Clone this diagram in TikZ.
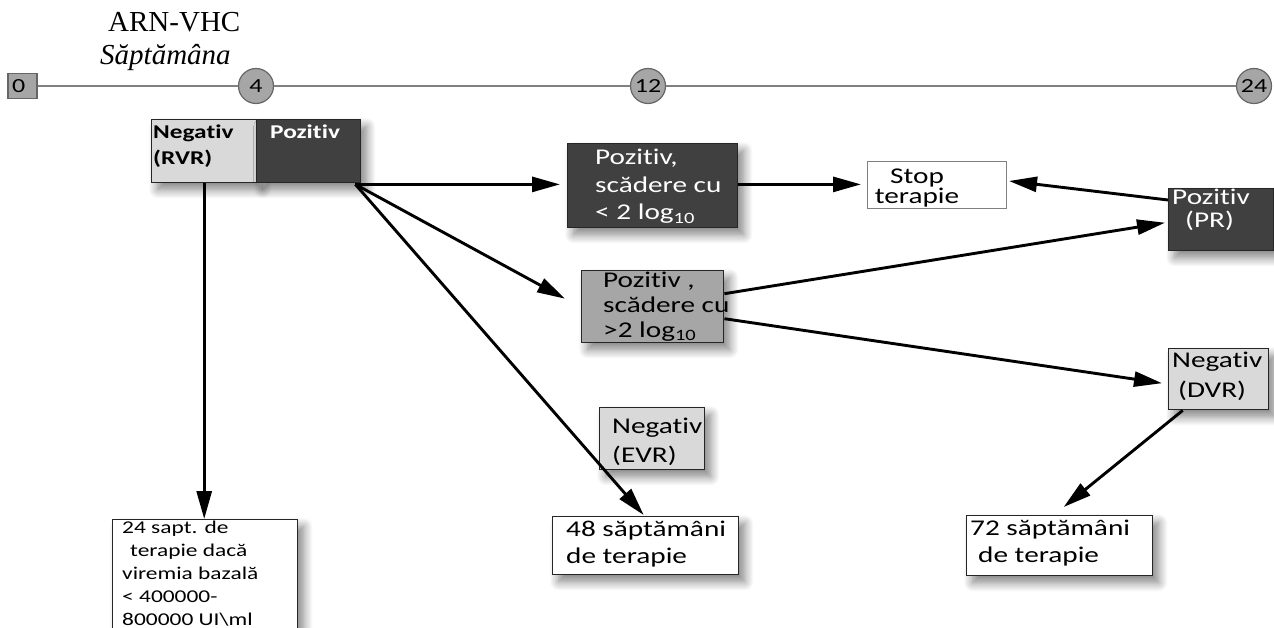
\documentclass[tikz,border=0pt]{standalone}
\usepackage{fontspec}
\setmainfont{Liberation Serif}
\newfontfamily\dg[FakeStretch=1.3, Ligatures=NoCommon]{Carlito}
\usetikzlibrary{arrows.meta,shadows.blur,calc}
\definecolor{dk}{HTML}{404040}
\definecolor{lt}{HTML}{D9D9D9}
\definecolor{md}{HTML}{A6A6A6}
\definecolor{tl}{HTML}{808080}
\begin{document}
\begin{tikzpicture}[x=1pt,y=-1pt,
 box/.style={draw=black!85, line width=1.4pt, inner sep=0pt, anchor=north west,
   blur shadow={shadow xshift=6pt, shadow yshift=-7pt, shadow blur steps=12, shadow blur radius=9pt, shadow opacity=50}},
 txt/.style={anchor=base west, inner sep=0pt, align=left, font=\dg\fontsize{22.5}{27}\selectfont},
 btxt/.style={txt, font=\dg\bfseries\fontsize{19.5}{26}\selectfont},
 arr/.style={-{Triangle[length=28pt,width=15pt]}, line width=2.9pt},
 tick/.style={circle, draw=black!60, fill=md, line width=1.2pt, minimum size=35pt, inner sep=0pt, font=\dg\fontsize{20}{20}\selectfont}
]
\path[use as bounding box] (0,0) rectangle (1274,628);
\clip (0,0) rectangle (1274,628);

% header
\node[anchor=base west, inner sep=0pt, font=\fontsize{29}{29}\selectfont] (arn) at (108,32) {ARN-VHC};
\node[anchor=base west, inner sep=0pt, font=\itshape\fontsize{29}{29}\selectfont] (sapt) at (100,65) {Săptămâna};

% timeline
\node[draw=black!60, fill=md, line width=1.2pt, minimum width=29pt, minimum height=25pt, inner sep=0pt] (w0) at (22.5,86) {};
\node[anchor=base west, inner sep=0pt, font=\dg\fontsize{20}{20}\selectfont] (w0t) at (12,93) {0};
\node[tick] (c4) at (256,86) {4};
\node[tick] (c12) at (648,86) {12};
\node[tick] (c24) at (1254,86) {24};
\draw[tl, line width=2pt] (w0) -- (c4) (c4) -- (c12) (c12) -- (c24);

% boxes
\node[box, fill=lt, minimum width=105pt, minimum height=63pt] (rvr) at (151,119) {};
\node[box, fill=dk, minimum width=104pt, minimum height=63pt] (pos) at (256,119) {};
\node[box, fill=dk, minimum width=170pt, minimum height=84pt] (lo1) at (567,143) {};
\node[draw=black!50, line width=1pt, fill=white, inner sep=0pt, anchor=north west, minimum width=139pt, minimum height=47pt] (stop) at (867,161) {};
\node[box, fill=md, minimum width=142pt, minimum height=72pt] (lo2) at (581,270) {};
\node[box, fill=dk, minimum width=105pt, minimum height=62pt] (pr) at (1168,188) {};
\node[box, fill=lt, minimum width=100pt, minimum height=61pt] (dvr) at (1168,348) {};
\node[box, fill=lt, minimum width=105pt, minimum height=62pt] (evr) at (599,407) {};
\node[box, fill=white, minimum width=186pt, minimum height=58pt] (b48) at (552,516) {};
\node[box, fill=white, minimum width=185pt, minimum height=130pt] (b24) at (112,519) {};
\node[box, fill=white, minimum width=186pt, minimum height=60pt] (b72) at (966,515) {};

% texts (anchor at baseline of the last line)
\node[btxt] (rvrt) at (153,165) {Negativ\\(RVR)};
\node[btxt, text=white] (post) at (270,139) {Pozitiv};
\node[txt, text=white, font=\dg\fontsize{22.5}{27.5}\selectfont] (lo1t) at (595,220) {Pozitiv,\\scădere cu\\< 2 log\textsubscript{10}};
\node[txt, anchor=base, align=center, font=\dg\fontsize{22.5}{19}\selectfont] (stopt) at (917,204) {Stop\\terapie};
\node[txt, font=\dg\fontsize{22.5}{25}\selectfont] (lo2t) at (603,337) {Pozitiv ,\\scădere cu\\>2 log\textsubscript{10}};
\node[txt, text=white, font=\dg\fontsize{22.5}{23}\selectfont] (prt) at (1172,228) {Pozitiv\\\hspace*{13pt}(PR)};
\node[txt, font=\dg\fontsize{22.5}{30}\selectfont] (dvrt) at (1172,397) {Negativ\\\hspace*{6pt}(DVR)};
\node[txt, font=\dg\fontsize{22.5}{29}\selectfont] (evrt) at (612,462) {Negativ\\(EVR)};
\node[txt] (b48t) at (566,563) {48 săptămâni\\de terapie};
\node[txt, font=\dg\fontsize{18}{23}\selectfont] (b24t) at (122,625) {24 sapt. de\\\hspace*{8pt}terapie dacă\\viremia bazală\\< 400000-\\800000 UI\textbackslash ml};
\node[txt] (b72t) at (970,562) {72 săptămâni\\\hspace*{8pt}de terapie};

% connectors
\coordinate (o) at ($(pos.south east)+(-6,1)$);
\draw[arr] (rvr.south) -- (rvr.south |- b24.north);
\draw[arr] (o) -- ($(lo1.west |- o)+(-7,0)$);
\draw[arr] (o) -- ($(lo2.west)+(-16,-8)$);
\draw[arr] (o) -- ($(b48.north)+(-2,-1)$);
\draw[arr] (lo1.east |- o) -- ($(stop.west |- o)+(-6,0)$);
\draw[arr] ($(pr.north west)+(0,12)$) -- ($(stop.east)+(2,-4)$);
\draw[arr] ($(lo2.east)+(0,-13)$) -- ($(pr.west)+(-3,3)$);
\draw[arr] ($(lo2.east)+(0,12)$) -- ($(dvr.west)+(-6,4)$);
\draw[arr] ($(dvr.south)+(-36,0)$) -- ($(b72.north)+(4,-8)$);
\end{tikzpicture}
\end{document}
